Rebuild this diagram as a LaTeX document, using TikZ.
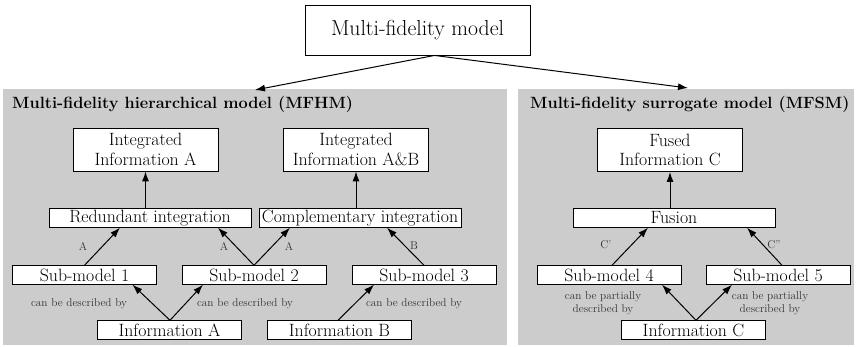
\documentclass[tikz,border=0pt]{standalone}
\usetikzlibrary{arrows.meta}
\definecolor{panelgray}{RGB}{204,204,204}
\begin{document}
\begin{tikzpicture}[x=1pt,y=-1pt,
  box/.style={draw=black,line width=0.9pt,fill=white,inner sep=0pt,align=center,
    font=\fontsize{17.8}{19.5}\selectfont},
  tallbox/.style={box,minimum width=145pt,minimum height=43pt},
  widebox/.style={box,minimum width=202pt,minimum height=18.5pt},
  smallbox/.style={box,minimum width=144pt,minimum height=18.5pt},
  topbox/.style={box,minimum width=225pt,minimum height=50pt,font=\fontsize{21.7}{23}\selectfont},
  panel/.style={fill=panelgray,draw=none},
  ptitle/.style={anchor=west,inner sep=0pt,font=\fontsize{16.3}{18}\selectfont\bfseries},
  note/.style={inner sep=0pt,align=center,font=\fontsize{11.3}{13}\selectfont,text=black!80},
  tag/.style={inner sep=0pt,font=\fontsize{11.3}{13}\selectfont,text=black!80},
  arr/.style={-{Latex[length=10pt,width=7pt]},line width=1pt}
]
\useasboundingbox (0,0) rectangle (857,347);

% panels
\fill[panel] (3,89) rectangle (507,345);
\fill[panel] (518,89) rectangle (854,345);
\node[ptitle] (t1) at (12,104) {Multi-fidelity hierarchical model (MFHM)};
\node[ptitle] (t2) at (530,104) {Multi-fidelity surrogate model (MFSM)};

% top
\node[topbox] (top) at (417.5,30) {Multi-fidelity model};
\coordinate (hmIn) at (255,90);
\coordinate (smIn) at (688,88);
\draw[arr] ([xshift=17pt]top.south) -- (hmIn);
\draw[arr] ([xshift=17pt]top.south) -- (smIn);

% hierarchical model
\node[tallbox] (intA) at (145.5,149.5) {Integrated\\Information A};
\node[tallbox] (intAB) at (356,149.5) {Integrated\\Information A\&B};
\node[widebox] (red) at (150,218) {Redundant integration};
\node[widebox] (comp) at (360,218) {Complementary integration};
\node[smallbox] (sub1) at (84.5,275) {Sub-model 1};
\node[smallbox] (sub2) at (254,275) {Sub-model 2};
\node[smallbox] (sub3) at (424,275) {Sub-model 3};
\node[smallbox] (infA) at (169.5,330) {Information A};
\node[smallbox] (infB) at (339.5,330) {Information B};

\draw[arr] (red.north -| intA) -- (intA.south);
\draw[arr] (comp.north -| intAB) -- (intAB.south);
\draw[arr] (sub1.north) -- ([xshift=-30pt]red.south);
\draw[arr] (sub2.north) -- ([xshift=68pt]red.south);
\draw[arr] (sub2.north) -- ([xshift=-70pt]comp.south);
\draw[arr] (sub3.north) -- ([xshift=27pt]comp.south);
\draw[arr] ([xshift=0.5pt]infA.north) -- ([xshift=48pt]sub1.south);
\draw[arr] ([xshift=0.5pt]infA.north) -- ([xshift=-51pt]sub2.south);
\draw[arr] ([xshift=-1.5pt]infB.north) -- ([xshift=-50pt]sub3.south);

\node[tag] (la1) at (83,246) {A};
\node[tag] (la2) at (224,246) {A};
\node[tag] (la3) at (289,246) {A};
\node[tag] (lb) at (414,246) {B};
\node[note] (d1) at (79,304) {can be described by};
\node[note] (d2) at (245,304) {can be described by};
\node[note] (d3) at (414,304) {can be described by};

% surrogate model
\node[tallbox] (fus) at (670,150) {Fused\\Information C};
\node[widebox] (fusion) at (674,218) {Fusion};
\node[smallbox] (sub4) at (609,275) {Sub-model 4};
\node[smallbox] (sub5) at (778,275) {Sub-model 5};
\node[smallbox] (infC) at (693.5,330) {Information C};

\draw[arr] (fusion.north -| fus) -- (fus.south);
\draw[arr] ([xshift=3pt]sub4.north) -- ([xshift=-26pt]fusion.south);
\draw[arr] ([xshift=4pt]sub5.north) -- ([xshift=73pt]fusion.south);
\draw[arr] ([xshift=2.5pt]infC.north) -- ([xshift=53pt]sub4.south);
\draw[arr] ([xshift=2.5pt]infC.north) -- ([xshift=-46pt]sub5.south);

\node[tag] (lc1) at (606,245) {C'};
\node[tag] (lc2) at (774,245) {C"};
\node[note] (d4) at (603,303.5) {can be partially\\described by};
\node[note] (d5) at (770,303.5) {can be partially\\described by};
\end{tikzpicture}
\end{document}
